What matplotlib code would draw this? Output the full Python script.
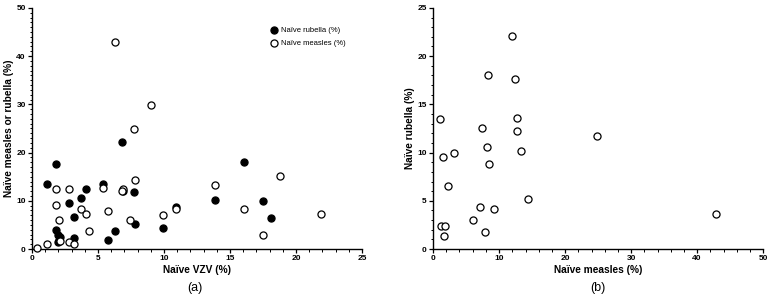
import matplotlib
matplotlib.use("Agg")
import matplotlib.pyplot as plt
from matplotlib.ticker import MultipleLocator

plt.rcParams["font.family"] = ["Liberation Sans", "DejaVu Sans"]

# (a) naïve VZV vs naïve rubella / measles
vzv_rub = [1.14, 1.82, 1.79, 1.95, 2.0, 2.05, 2.1, 2.83, 3.2, 3.2, 3.71, 4.09, 5.35,
           5.73, 6.29, 6.82, 6.87, 7.73, 7.8, 9.92, 10.93, 13.89, 16.09, 17.53, 18.13]
rubella = [13.5, 17.6, 4.0, 1.5, 2.9, 1.9, 2.4, 9.5, 6.6, 2.3, 10.5, 12.5, 13.5,
           1.8, 3.7, 22.1, 12.0, 11.8, 5.2, 4.4, 8.8, 10.1, 18.0, 10.0, 6.4]
vzv_mea = [0.35, 1.14, 1.82, 1.79, 2.02, 2.1, 2.78, 2.83, 3.2, 3.71, 4.09, 4.34, 5.35,
           5.73, 6.31, 6.87, 6.84, 7.45, 7.73, 7.8, 8.99, 9.92, 10.93, 13.89, 16.09,
           17.53, 18.81, 21.89]
measles = [0.3, 1.0, 12.4, 9.1, 6.0, 1.7, 12.4, 1.5, 1.1, 8.2, 7.3, 3.7, 12.7,
           7.8, 43.0, 12.5, 12.0, 6.0, 24.8, 14.3, 29.8, 7.1, 8.4, 13.3, 8.3,
           3.0, 15.1, 7.2]

# (b) naïve measles vs naïve rubella
mea_b = [1.11, 1.52, 1.21, 1.87, 1.67, 2.28, 3.13, 6.02, 7.08, 7.38, 7.84, 8.19,
         8.34, 8.49, 9.2, 12.03, 12.44, 12.64, 12.74, 13.3, 14.31, 24.77, 42.92]
rub_b = [13.5, 9.56, 2.39, 2.39, 1.35, 6.58, 10.0, 3.01, 4.40, 12.53, 1.80, 10.56,
         18.0, 8.86, 4.12, 22.1, 17.66, 12.19, 13.57, 10.18, 5.23, 11.77, 3.67]

fig = plt.figure(figsize=(7.72, 2.98), dpi=100)
ax1 = fig.add_axes([0.0415, 0.1644, 0.4275, 0.809])
ax2 = fig.add_axes([0.561, 0.1644, 0.4275, 0.809])


def style(ax, xmax, ymax, xmaj, xmin, ymaj, ymin):
    ax.set_xlim(0, xmax)
    ax.set_ylim(0, ymax)
    ax.xaxis.set_major_locator(MultipleLocator(xmaj))
    ax.xaxis.set_minor_locator(MultipleLocator(xmin))
    ax.yaxis.set_major_locator(MultipleLocator(ymaj))
    ax.yaxis.set_minor_locator(MultipleLocator(ymin))
    for s in ("top", "right"):
        ax.spines[s].set_visible(False)
    for s in ("left", "bottom"):
        ax.spines[s].set_linewidth(1.0)
    ax.tick_params(which="major", length=3, width=0.9, labelsize=6, pad=1.5)
    ax.tick_params(which="minor", length=1.8, width=0.7)
    for lab in ax.get_xticklabels() + ax.get_yticklabels():
        lab.set_fontweight("bold")


kw = dict(s=26, linewidths=0.9, clip_on=False, zorder=3)
ax1.scatter(vzv_rub, rubella, color="black", label="Naïve rubella (%)", **kw)
ax1.scatter(vzv_mea, measles, facecolor="white", edgecolor="black",
            label="Naïve measles (%)", **kw)
style(ax1, 25, 50, 5, 1, 10, 1)
ax1.set_xlabel("Naïve VZV (%)", fontsize=7.3, fontweight="bold", labelpad=2)
ax1.set_ylabel("Naïve measles or rubella (%)", fontsize=7.3, fontweight="bold", labelpad=2)
ax1.legend(loc="upper right", bbox_to_anchor=(0.96, 0.935), frameon=False,
           fontsize=5.5, handletextpad=0.3, borderaxespad=0.0, labelspacing=0.75,
           handlelength=1.2)

ax2.scatter(mea_b, rub_b, facecolor="white", edgecolor="black", **kw)
style(ax2, 50, 25, 10, 2, 5, 1)
ax2.set_xlabel("Naïve measles (%)", fontsize=7.3, fontweight="bold", labelpad=2)
ax2.set_ylabel("Naïve rubella (%)", fontsize=7.3, fontweight="bold", labelpad=2)

fig.text(0.2528, 0.035, "(a)", ha="center", va="center", fontsize=9)
fig.text(0.7748, 0.035, "(b)", ha="center", va="center", fontsize=9)

fig.savefig("out.png", dpi=100)
